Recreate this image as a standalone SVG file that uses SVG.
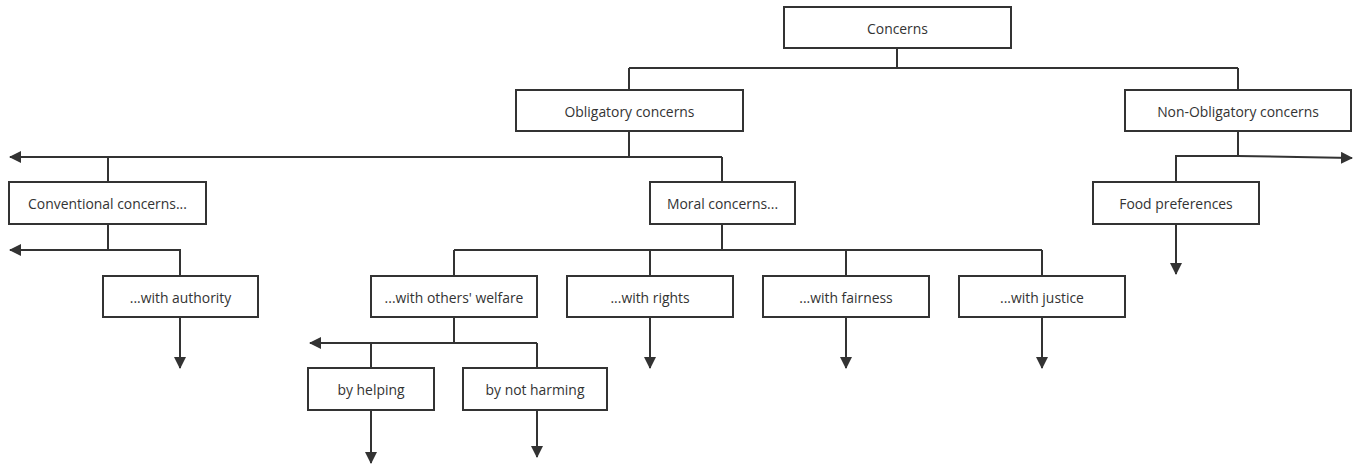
<svg xmlns="http://www.w3.org/2000/svg" width="1360" height="468" viewBox="0 0 1360 468">
<style>
.box{fill:#fff;stroke:#333;stroke-width:2}
.lbl{font-family:"Open Sans","Noto Sans",sans-serif;font-size:13.9px;fill:#333;text-anchor:middle;dominant-baseline:central}
.ln{fill:none;stroke:#333;stroke-width:2}
</style>
<defs>
<marker id="ah" viewBox="0 0 12 12" refX="11" refY="6" markerWidth="12" markerHeight="12" markerUnits="userSpaceOnUse" orient="auto">
<path d="M0,0 L12,6 L0,12 Z" fill="#333"/>
</marker>
</defs>
<g id="connectors">
<path class="ln" d="M897,48 V68 M629,68 H1238 M629,68 V90 M1238,68 V90"/>
<path class="ln" d="M629,131 V157 M108,157 H722 M108,157 V182 M722,157 V182"/>
<path class="ln" d="M108,157 H10" marker-end="url(#ah)"/>
<path class="ln" d="M108,224 V250 H180 V276"/>
<path class="ln" d="M108,250 H10" marker-end="url(#ah)"/>
<path class="ln" d="M180,317 V368" marker-end="url(#ah)"/>
<path class="ln" d="M722,224 V250 M454,250 H1042 M454,250 V276 M650,250 V276 M846,250 V276 M1042,250 V276"/>
<path class="ln" d="M454,317 V343 M371,343 H537 M371,343 V368 M537,343 V368"/>
<path class="ln" d="M371,343 H310" marker-end="url(#ah)"/>
<path class="ln" d="M371,410 V463" marker-end="url(#ah)"/>
<path class="ln" d="M537,410 V457" marker-end="url(#ah)"/>
<path class="ln" d="M650,317 V368" marker-end="url(#ah)"/>
<path class="ln" d="M846,317 V368" marker-end="url(#ah)"/>
<path class="ln" d="M1042,317 V368" marker-end="url(#ah)"/>
<path class="ln" d="M1238,131 V156 H1176 V182"/>
<path class="ln" d="M1238,156 L1352,158" marker-end="url(#ah)"/>
<path class="ln" d="M1176,224 V274" marker-end="url(#ah)"/>
</g>
<g id="n-concerns"><rect class="box" x="784" y="7" width="227" height="41"/><text class="lbl" x="897.5" y="28">Concerns</text></g>
<g id="n-obligatory"><rect class="box" x="516" y="90" width="227" height="41"/><text class="lbl" x="629.5" y="111">Obligatory concerns</text></g>
<g id="n-nonobligatory"><rect class="box" x="1125" y="90" width="226" height="41"/><text class="lbl" x="1238" y="111">Non-Obligatory concerns</text></g>
<g id="n-conventional"><rect class="box" x="9" y="182" width="197" height="42"/><text class="lbl" x="107.5" y="203">Conventional concerns...</text></g>
<g id="n-moral"><rect class="box" x="650" y="182" width="145" height="42"/><text class="lbl" x="722.5" y="203">Moral concerns...</text></g>
<g id="n-food"><rect class="box" x="1093" y="182" width="166" height="42"/><text class="lbl" x="1176" y="203">Food preferences</text></g>
<g id="n-authority"><rect class="box" x="103" y="276" width="155" height="41"/><text class="lbl" x="180.5" y="297">...with authority</text></g>
<g id="n-welfare"><rect class="box" x="371" y="276" width="166" height="41"/><text class="lbl" x="454" y="297">...with others' welfare</text></g>
<g id="n-rights"><rect class="box" x="567" y="276" width="166" height="41"/><text class="lbl" x="650" y="297">...with rights</text></g>
<g id="n-fairness"><rect class="box" x="763" y="276" width="166" height="41"/><text class="lbl" x="846" y="297">...with fairness</text></g>
<g id="n-justice"><rect class="box" x="959" y="276" width="166" height="41"/><text class="lbl" x="1042" y="297">...with justice</text></g>
<g id="n-helping"><rect class="box" x="308" y="368" width="126" height="42"/><text class="lbl" x="371" y="389">by helping</text></g>
<g id="n-notharming"><rect class="box" x="463" y="368" width="144" height="42"/><text class="lbl" x="535" y="389">by not harming</text></g>
</svg>
